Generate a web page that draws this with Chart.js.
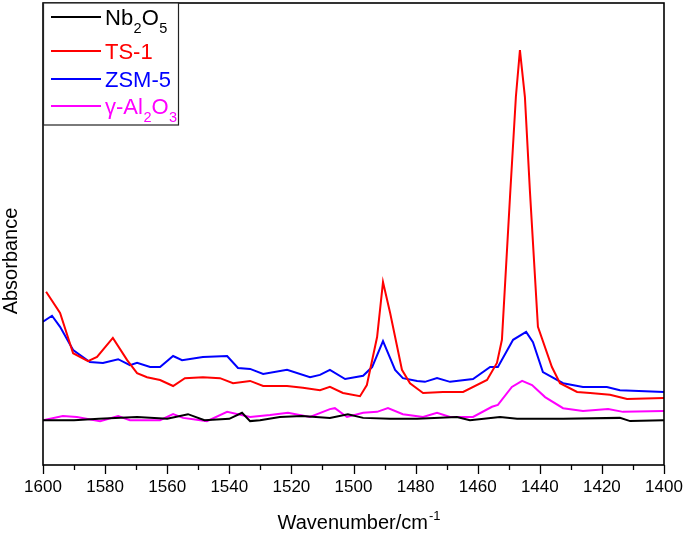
<!DOCTYPE html>
<html>
<head>
<meta charset="utf-8">
<script src="https://cdn.jsdelivr.net/npm/chart.js@4/dist/chart.umd.min.js"></script>
<style>
  html, body { margin: 0; padding: 0; background: #fff; }
  #wrap { width: 685px; height: 534px; }
</style>
</head>
<body>
<div id="wrap"><canvas id="c"></canvas></div>
<script>
// wavenumber (cm-1) and absorbance (a.u.)
const nbWn = [1600, 1590, 1582, 1569.7, 1560, 1553.3, 1548, 1540, 1535.9, 1533.3, 1530.1, 1523.7, 1516.6, 1507.6, 1501.8, 1496.9, 1488.2, 1479.5, 1466.7, 1462.5, 1452.8, 1447.3, 1432.5, 1414.2, 1410.9, 1400];
const nbAbs = [0.097, 0.097, 0.100, 0.104, 0.100, 0.110, 0.097, 0.100, 0.113, 0.095, 0.097, 0.104, 0.106, 0.102, 0.110, 0.102, 0.100, 0.100, 0.104, 0.097, 0.104, 0.100, 0.100, 0.102, 0.095, 0.097];

const tsWn = [1599, 1594.5, 1590.3, 1585.5, 1582.6, 1577.5, 1572.9, 1569.7, 1566.5, 1562.3, 1558.1, 1554.3, 1548.5, 1543, 1538.8, 1533.3, 1529.1, 1521.4, 1516.3, 1510.8, 1507.6, 1503.4, 1497.9, 1495.7, 1492.4, 1490.5, 1488.2, 1484.4, 1481.8, 1477.6, 1471.2, 1464.7, 1457, 1453.8, 1452.2, 1449.6, 1447.7, 1446.4, 1444.8, 1443.2, 1440.6, 1436.1, 1433.5, 1428, 1423.8, 1417.4, 1411.9, 1400];
const tsAbs = [0.375, 0.329, 0.242, 0.225, 0.234, 0.275, 0.227, 0.199, 0.190, 0.184, 0.171, 0.188, 0.190, 0.188, 0.177, 0.182, 0.171, 0.171, 0.167, 0.162, 0.169, 0.156, 0.149, 0.173, 0.277, 0.396, 0.329, 0.206, 0.177, 0.156, 0.158, 0.158, 0.184, 0.221, 0.271, 0.580, 0.797, 0.898, 0.797, 0.595, 0.299, 0.212, 0.177, 0.158, 0.156, 0.152, 0.143, 0.145];

const zsmWn = [1600, 1597.1, 1594.5, 1590.3, 1584.9, 1580.7, 1575.8, 1572, 1569.7, 1565.5, 1562.3, 1558.1, 1555.2, 1548.5, 1540.7, 1537.2, 1533.3, 1529.1, 1521.4, 1514, 1510.8, 1507.6, 1502.7, 1496.9, 1494, 1490.5, 1486.6, 1484.1, 1479.5, 1477, 1473.1, 1468.9, 1461.5, 1456, 1453.5, 1448.6, 1444.4, 1442.2, 1439, 1432.5, 1426.1, 1418.4, 1414.2, 1400];
const zsmAbs = [0.310, 0.323, 0.299, 0.249, 0.223, 0.221, 0.229, 0.216, 0.221, 0.212, 0.212, 0.236, 0.227, 0.234, 0.236, 0.210, 0.208, 0.197, 0.206, 0.190, 0.195, 0.206, 0.186, 0.193, 0.212, 0.268, 0.206, 0.188, 0.182, 0.180, 0.188, 0.180, 0.186, 0.212, 0.212, 0.271, 0.288, 0.266, 0.201, 0.177, 0.169, 0.169, 0.162, 0.158];

const alWn = [1600, 1593.6, 1589.1, 1581.6, 1575.8, 1572, 1562.3, 1558.1, 1554.9, 1547.2, 1540.7, 1533.3, 1526.9, 1521.1, 1514, 1507.6, 1506, 1502.1, 1496.9, 1492.4, 1488.9, 1484.1, 1477.6, 1473.1, 1468.9, 1461.5, 1455.4, 1453.5, 1449, 1445.7, 1442.5, 1438.3, 1432.5, 1426.1, 1418, 1413.2, 1400];
const alAbs = [0.097, 0.106, 0.104, 0.095, 0.106, 0.097, 0.097, 0.110, 0.102, 0.095, 0.115, 0.104, 0.108, 0.113, 0.104, 0.121, 0.123, 0.104, 0.113, 0.115, 0.123, 0.110, 0.104, 0.113, 0.104, 0.104, 0.126, 0.130, 0.169, 0.182, 0.173, 0.147, 0.123, 0.117, 0.121, 0.115, 0.117];

// "_" marks a subscript digit
const seriesNames = ['Nb_2O_5', 'TS-1', 'ZSM-5', 'γ-Al_2O_3'];
const seriesColors = ['#000000', '#ff0000', '#0000ff', '#ff00ff'];

const FONT = '"Liberation Sans", Arial, sans-serif';

function pts(xs, ys) {
  let out = [];
  for (let i = 0; i < xs.length; i++) out.push({ x: xs[i], y: ys[i] });
  return out;
}

const allWn = [nbWn, tsWn, zsmWn, alWn];
const allAbs = [nbAbs, tsAbs, zsmAbs, alAbs];
let datasets = [];
for (let i = 0; i < seriesNames.length; i++) {
  datasets.push({
    label: seriesNames[i].replace(/_/g, ''),
    data: pts(allWn[i], allAbs[i]),
    borderColor: seriesColors[i],
    borderWidth: 2,
    pointRadius: 0,
    tension: 0,
    fill: false
  });
}

// draws text where "_d" becomes a smaller, lowered digit
function subText(ctx, str, x, y, size) {
  let parts = str.split(/(_.)/);
  for (let p of parts) {
    if (!p) continue;
    if (p[0] === '_') {
      ctx.font = (size * 0.66) + 'px ' + FONT;
      ctx.fillText(p[1], x + 0.5, y + size * 0.38);
      x += ctx.measureText(p[1]).width + 0.5;
    } else {
      ctx.font = size + 'px ' + FONT;
      ctx.fillText(p, x, y);
      x += ctx.measureText(p).width;
    }
  }
}

const decor = {
  id: 'decor',
  afterDraw(chart) {
    const ctx = chart.ctx;
    const a = chart.chartArea;
    const xs = chart.scales.x;
    ctx.save();
    ctx.strokeStyle = '#000';
    ctx.fillStyle = '#000';

    // frame
    ctx.lineWidth = 1.6;
    ctx.strokeRect(a.left, a.top, a.right - a.left, a.bottom - a.top);

    // tick marks, major every 20, minor every 10
    ctx.lineWidth = 1.3;
    for (let v = 1400; v <= 1600; v += 10) {
      const px = Math.round(xs.getPixelForValue(v)) + 0.5;
      const len = (v % 20 === 0) ? 9 : 5;
      ctx.beginPath();
      ctx.moveTo(px, a.bottom);
      ctx.lineTo(px, a.bottom + len);
      ctx.stroke();
    }

    // axis titles
    ctx.textBaseline = 'alphabetic';
    ctx.font = '20px ' + FONT;
    const main = 'Wavenumber/cm';
    const wMain = ctx.measureText(main).width;
    ctx.font = '13px ' + FONT;
    const wSup = ctx.measureText('-1').width;
    let tx = (a.left + a.right) / 2 + 5 - (wMain + wSup) / 2;
    ctx.font = '20px ' + FONT;
    ctx.textAlign = 'left';
    ctx.fillText(main, tx, 529);
    ctx.font = '13px ' + FONT;
    ctx.fillText('-1', tx + wMain + 1, 520);

    ctx.save();
    ctx.translate(17, 261);
    ctx.rotate(-Math.PI / 2);
    ctx.textAlign = 'center';
    ctx.font = '20px ' + FONT;
    ctx.fillText('Absorbance', 0, 0);
    ctx.restore();

    // legend box
    const bx = a.left, by = a.top, bw = 135, bh = 122;
    ctx.fillStyle = '#fff';
    ctx.fillRect(bx, by, bw, bh);
    ctx.lineWidth = 1.2;
    ctx.strokeStyle = '#222';
    ctx.strokeRect(bx + 0.5, by, bw, bh);
    const rowY = [17, 51, 79, 106];
    for (let i = 0; i < seriesNames.length; i++) {
      ctx.strokeStyle = seriesColors[i];
      ctx.lineWidth = 2;
      ctx.beginPath();
      ctx.moveTo(51, rowY[i]);
      ctx.lineTo(101, rowY[i]);
      ctx.stroke();
      ctx.fillStyle = seriesColors[i];
      ctx.textAlign = 'left';
      subText(ctx, seriesNames[i], 105, rowY[i] + 8, 22);
    }
    ctx.restore();
  }
};

new Chart(document.getElementById('c'), {
  type: 'line',
  data: { datasets: datasets },
  options: {
    responsive: true,
    maintainAspectRatio: false,
    animation: false,
    layout: { padding: { top: 3, right: 21, left: 0, bottom: 0 } },
    plugins: { legend: { display: false }, tooltip: { enabled: false } },
    scales: {
      x: {
        type: 'linear',
        reverse: true,
        min: 1400,
        max: 1600,
        grid: { display: false, drawTicks: false },
        border: { display: false },
        ticks: {
          stepSize: 20,
          padding: 12,
          color: '#000',
          maxRotation: 0,
          font: { family: FONT, size: 17 },
          callback: (v) => String(v)
        },
        afterFit(s) {
          s.height = 69;
          s.paddingLeft = 0;
          s.paddingRight = 0;
        }
      },
      y: {
        min: 0,
        max: 1,
        grid: { display: false, drawTicks: false },
        border: { display: false },
        ticks: { display: false },
        afterFit(s) { s.width = 43; }
      }
    }
  },
  plugins: [decor]
});
</script>
</body>
</html>
